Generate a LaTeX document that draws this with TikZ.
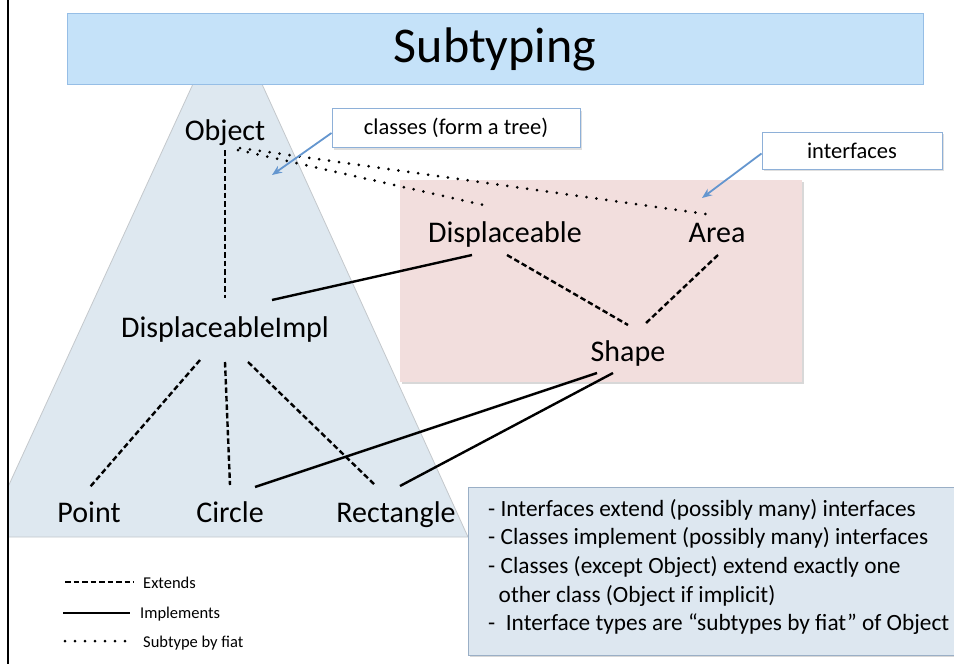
\documentclass[tikz,border=0pt]{standalone}
\usepackage{fontspec}
\setmainfont{Carlito}
\usetikzlibrary{shadows,arrows.meta,calc}
\definecolor{barfill}{HTML}{C5E2F9}
\definecolor{barline}{HTML}{96BEE6}
\definecolor{trifill}{HTML}{DEE8F0}
\definecolor{triline}{HTML}{C4C8CC}
\definecolor{pinkfill}{HTML}{F2DEDD}
\definecolor{pinkline}{HTML}{E6CFCE}
\definecolor{callline}{HTML}{8EB0D8}
\definecolor{arrowblue}{HTML}{6496CF}
\definecolor{tbfill}{HTML}{DDE7F0}
\definecolor{tbline}{HTML}{9AAFC6}
\begin{document}
\begin{tikzpicture}[x=1pt,y=-1pt,
  lbl/.style={font=\fontsize{30}{36}\selectfont, inner sep=0pt, anchor=base},
  extends/.style={line width=2.4pt, dash pattern=on 5.5pt off 3pt},
  implements/.style={line width=2.4pt},
  fiat/.style={line width=3pt, line cap=round, dash pattern=on 0pt off 10pt},
  callout/.style={draw=callline, line width=1pt, fill=white, inner sep=0pt,
    font=\fontsize{22.5}{27}\selectfont,
    drop shadow={shadow xshift=2pt, shadow yshift=-2pt, opacity=0.25}},
  callarrow/.style={draw=arrowblue, line width=1.8pt, -{Stealth[length=10pt,width=8pt]}},
  legtext/.style={font=\fontsize{16.5}{20}\selectfont, inner sep=0pt, anchor=base west}
]
\useasboundingbox (0,0) rectangle (954,664);
\fill[white] (0,0) rectangle (954,664);

% triangle of classes
\begin{scope}
  \clip (9,0) rectangle (954,664);
  \filldraw[fill=trifill, draw=triline, line width=0.8pt]
    (204,60) -- (251,60) -- (468,537) -- (-15,537) -- cycle;
\end{scope}

% interfaces area
\fill[pinkfill, drop shadow={shadow xshift=2pt, shadow yshift=-2pt, opacity=0.3}]
  (400,180) rectangle (802,382);

% title bar
\filldraw[fill=barfill, draw=barline, line width=1pt] (67,13) rectangle (923,84);
\node[font=\fontsize{50}{60}\selectfont, inner sep=0pt] (title) at (495,49) {Subtyping};

% frame line
\draw[line width=2pt] (8,0) -- (8,664);

% type nodes
\node[lbl] (obj) at (225,140) {Object};
\node[lbl] (disp) at (505,242) {Displaceable};
\node[lbl] (area) at (717,242) {Area};
\node[lbl] (shape) at (628,361) {Shape};
\node[lbl] (dimpl) at (225,337) {DisplaceableImpl};
\node[lbl] (point) at (89,522) {Point};
\node[lbl] (circle) at (230,522) {Circle};
\node[lbl] (rect) at (396,522) {Rectangle};

% extends
\draw[extends] ($(obj.base)+(0,10)$) -- ($(dimpl.base)+(0,-39)$);
\draw[extends] ($(disp.base)+(2,13)$) -- ($(shape.base)+(0,-36)$);
\draw[extends] ($(area.base)+(1,13)$) -- ($(shape.base)+(17,-37)$);
\draw[extends] ($(dimpl.base)+(-25,23)$) -- ($(point.base)+(1,-35)$);
\draw[extends] ($(dimpl.base)+(0,25)$) -- ($(circle.base)+(0,-37)$);
\draw[extends] ($(dimpl.base)+(23,25)$) -- ($(rect.base)+(-21,-37)$);

% implements
\draw[implements] ($(disp.base)+(-33,13)$) -- ($(dimpl.base)+(47,-37)$);
\draw[implements] ($(shape.base)+(-31,12)$) -- ($(circle.base)+(25,-35)$);
\draw[implements] ($(shape.base)+(-15,12)$) -- ($(rect.base)+(4,-36)$);

% subtype by fiat
\draw[fiat] ($(obj.base)+(13,10)$) -- ($(disp.base)+(-17,-36)$);
\draw[fiat] ($(obj.base)+(15,8)$) -- ($(area.base)+(-11,-28)$);

% callouts
\node[callout, minimum width=248pt, minimum height=39pt] (cls) at (456,128) {classes (form a tree)};
\coordinate (clstip) at (272,175);
\draw[callarrow] ($(cls.west)+(0,5)$) -- (clstip);
\node[callout, minimum width=180pt, minimum height=37pt] (ifc) at (852,150.5) {interfaces};
\coordinate (ifctip) at (702,198);
\draw[callarrow] ($(ifc.west)+(0,3)$) -- (ifctip);

% rules box
\filldraw[fill=tbfill, draw=tbline, line width=1pt,
  drop shadow={shadow xshift=2pt, shadow yshift=-2pt, opacity=0.3}]
  (468,487) rectangle (962,655);
\node[anchor=north west, inner sep=0pt, align=left,
  font=\fontsize{23.3}{28.6}\selectfont] (rules) at (488,499)
  {- Interfaces extend (possibly many) interfaces\\
   - Classes implement (possibly many) interfaces\\
   - Classes (except Object) extend exactly one\\
   \ \ other class (Object if implicit)\\
   - \ Interface types are “subtypes by fiat” of Object};

% legend
\node[legtext] (lext) at (143,588) {Extends};
\node[legtext] (limp) at (140,618) {Implements};
\node[legtext] (lfiat) at (143,647) {Subtype by fiat};
\draw[extends] ($(lext.base west)+(-78,-6)$) -- ($(lext.base west)+(-9,-6)$);
\draw[implements] ($(limp.base west)+(-77,-5)$) -- ($(limp.base west)+(-10,-5)$);
\draw[fiat] ($(lfiat.base west)+(-78,-6)$) -- ($(lfiat.base west)+(-14,-6)$);
\end{tikzpicture}
\end{document}
